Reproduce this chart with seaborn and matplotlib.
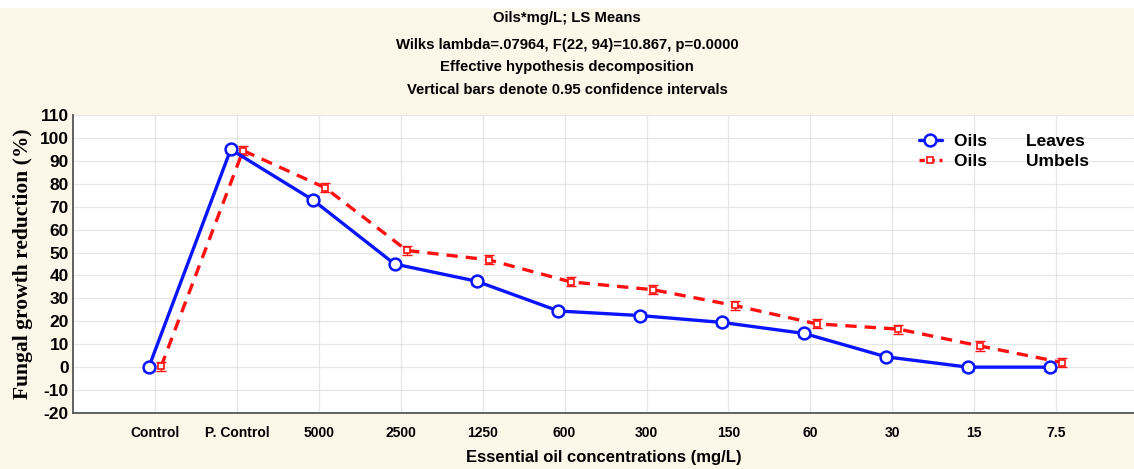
import matplotlib
matplotlib.use("Agg")
import matplotlib.pyplot as plt
import seaborn as sns
import pandas as pd
import numpy as np
from matplotlib.lines import Line2D
from matplotlib.patches import Rectangle

categories = ["Control", "P. Control", "5000", "2500", "1250", "600", "300",
              "150", "60", "30", "15", "7.5"]
leaves = [0, 95, 73, 45, 37.5, 24.5, 22.5, 19.5, 14.7, 4.5, 0, 0]
umbels = [0.3, 94.5, 78.3, 50.9, 46.8, 37.2, 33.8, 26.9, 18.9, 16.6, 9.2, 2.0]
leaves_ci = [1.5, 1.5, 1.5, 1.5, 1.5, 1.5, 1.5, 1.5, 1.5, 1.5, 1.5, 1.5]
umbels_ci = [2.0, 2.0, 2.0, 2.0, 2.0, 2.0, 2.0, 2.0, 2.0, 2.0, 2.0, 2.0]
series = ["Leaves", "Umbels"]
title_lines = ["Oils*mg/L; LS Means",
               "Wilks lambda=.07964, F(22, 94)=10.867, p=0.0000",
               "Effective hypothesis decomposition",
               "Vertical bars denote 0.95 confidence intervals"]

sns.set_theme(style="white")
plt.rcParams["font.family"] = ["Liberation Sans", "DejaVu Sans"]
plt.rcParams["axes.unicode_minus"] = False
plt.rcParams["text.color"] = "black"
plt.rcParams["axes.labelcolor"] = "black"
plt.rcParams["xtick.color"] = "black"
plt.rcParams["ytick.color"] = "black"

cream = "#fcf7e9"
blue = "#0a14ff"
red = "#ff1010"

df = pd.DataFrame({
    "conc": categories * 2,
    "value": leaves + umbels,
    "oil": [series[0]] * len(categories) + [series[1]] * len(categories),
})

fig = plt.figure(figsize=(11.34, 4.69), dpi=100, facecolor=cream)
fig.patches.append(Rectangle((0, 0.985), 1, 0.015, transform=fig.transFigure,
                             color="white", zorder=0))
ax = fig.add_axes([0.0644, 0.1194, 0.9356, 0.6354])
ax.set_facecolor("white")

dodge = 0.15
sns.pointplot(data=df, x="conc", y="value", hue="oil", order=categories,
              hue_order=series, palette=[blue, red], dodge=dodge,
              errorbar=None, markers=["o", "s"], linestyles=["-", "--"],
              ax=ax, legend=False)

for ln in ax.get_lines():
    if ln.get_linestyle() == "-":
        ln.set_linewidth(2.4)
        ln.set_marker("o")
        ln.set_markersize(8.5)
        ln.set_markerfacecolor("white")
        ln.set_markeredgecolor(blue)
        ln.set_markeredgewidth(1.8)
        ln.set_zorder(4)
    else:
        ln.set_linewidth(2.4)
        ln.set_dashes([3.4, 2.4])
        ln.set_marker("s")
        ln.set_markersize(5)
        ln.set_markerfacecolor("white")
        ln.set_markeredgecolor(red)
        ln.set_markeredgewidth(1.2)
        ln.set_zorder(3)

xs = np.arange(len(categories))
off = dodge / 2
ax.errorbar(xs - off, leaves, yerr=leaves_ci, fmt="none", ecolor=blue,
            elinewidth=1.0, capsize=4, capthick=1.0, zorder=3.5)
ax.errorbar(xs + off, umbels, yerr=umbels_ci, fmt="none", ecolor=red,
            elinewidth=1.0, capsize=3.5, capthick=1.0, zorder=2.5)

ax.set_xlim(-1, 11.95)
ax.set_ylim(-20, 110)
ax.set_yticks(np.arange(-20, 111, 10))
ax.grid(True, color="#d9d9d9", linewidth=0.9, linestyle=(0, (1, 0.6)))
ax.set_axisbelow(True)

for s in ["top", "right"]:
    ax.spines[s].set_visible(False)
for s in ["left", "bottom"]:
    ax.spines[s].set_color("#555555")
    ax.spines[s].set_linewidth(1.3)

ax.tick_params(axis="both", direction="in", length=3, width=0.8, color="#555555")
ax.tick_params(axis="x", pad=9.5)
ax.tick_params(axis="y", pad=3)
for lab in ax.get_xticklabels():
    lab.set_fontsize(10)
    lab.set_fontweight("bold")
for lab in ax.get_yticklabels():
    lab.set_fontsize(12.5)
    lab.set_fontweight("bold")

ax.set_xlabel("Essential oil concentrations (mg/L)", fontsize=12,
              fontweight="bold", labelpad=7)
ax.set_ylabel("Fungal growth reduction (%)", fontsize=15.5, fontweight="bold",
              labelpad=5, fontfamily=["Liberation Serif", "DejaVu Serif"])

ys = [0.962, 0.905, 0.857, 0.808]
for t, yy in zip(title_lines, ys):
    fig.text(0.5, yy, t, ha="center", va="center", fontsize=10.7,
             fontweight="bold")

handles = [
    Line2D([], [], color=blue, lw=2.4, marker="o", markersize=8.5,
           markerfacecolor="white", markeredgecolor=blue, markeredgewidth=1.8),
    Line2D([], [], color=red, lw=2.4, dashes=[1.6, 1.4], marker="s", markersize=5,
           markerfacecolor="white", markeredgecolor=red, markeredgewidth=1.2),
]
labels = ["Oils        Leaves", "Oils        Umbels"]
leg = ax.legend(handles, labels, loc="upper right", bbox_to_anchor=(0.972, 0.99),
                frameon=False, handlelength=1.3, handletextpad=0.7,
                labelspacing=0.3, prop={"weight": "bold", "size": 12.5})

fig.savefig("out.png", dpi=100, facecolor=cream)
